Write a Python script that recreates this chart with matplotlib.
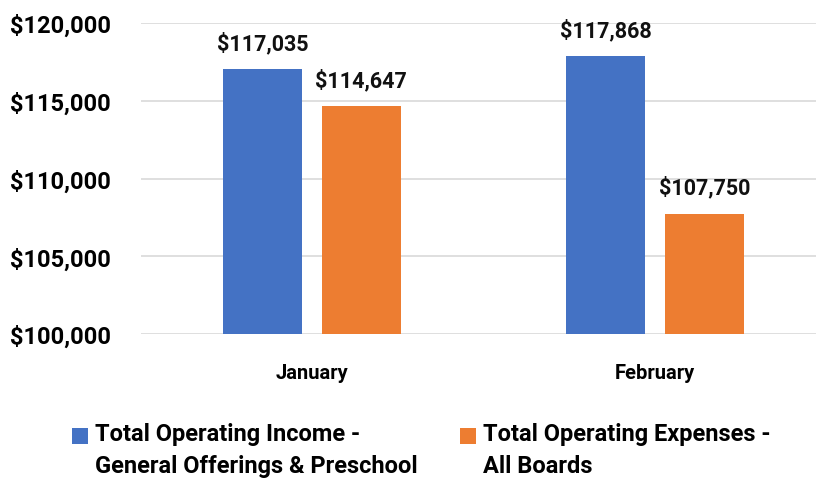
import matplotlib.pyplot as plt
import numpy as np
from matplotlib.ticker import FuncFormatter
from matplotlib.patches import Rectangle
from matplotlib.legend_handler import HandlerPatch

months = ["January", "February"]
income = [117035, 117868]
expenses = [114647, 107750]
series_names = ["Total Operating Income -\nGeneral Offerings & Preschool",
                "Total Operating Expenses -\nAll Boards"]

plt.rcParams["font.family"] = ["Roboto", "DejaVu Sans"]
plt.rcParams["font.weight"] = "bold"

fig = plt.figure(figsize=(8.16, 4.81), dpi=100)
ax = fig.add_axes([0.173, 0.3035, 0.827, 0.6465])

x = np.arange(len(months))
w = 0.23
off = 0.144
b1 = ax.bar(x - off, income, w, color="#4472C4", label=series_names[0], zorder=2)
b2 = ax.bar(x + off, expenses, w, color="#ED7D31", label=series_names[1], zorder=2)

for bars in (b1, b2):
    for rect in bars:
        h = rect.get_height()
        ax.annotate("${:,.0f}".format(h), (rect.get_x() + rect.get_width() / 2, h),
                    xytext=(0, 11), textcoords="offset points", ha="center", va="bottom",
                    fontsize=15.5, fontweight="bold", color="#111111")

ax.set_ylim(100000, 120000)
ax.set_yticks(range(100000, 120001, 5000))
ax.yaxis.set_major_formatter(FuncFormatter(lambda v, p: "${:,.0f}".format(v)))
ax.set_xlim(-0.497, 1.469)
ax.set_xticks(x)
ax.set_xticklabels(months)

ax.grid(axis="y", color="#D9D9D9", linewidth=1.2, zorder=0)
for s in ax.spines.values():
    s.set_visible(False)
ax.tick_params(axis="both", length=0)
ax.tick_params(axis="y", labelsize=17, pad=22)
ax.tick_params(axis="x", labelsize=14.5, pad=21)
for t in ax.get_yticklabels() + ax.get_xticklabels():
    t.set_fontweight("bold")


# legend squares sit next to the first line of the two-line labels
def top_square(legend, orig_handle, xdescent, ydescent, width, height, fontsize):
    return Rectangle((-xdescent, -ydescent + 10.5), width, height)


leg = fig.legend(handles=[b1.patches[0], b2.patches[0]], labels=series_names, loc="upper left",
                 bbox_to_anchor=(0.088, 0.12), ncol=2, frameon=False,
                 handlelength=0.68, handleheight=0.68, borderpad=0, borderaxespad=0,
                 handletextpad=0.3, columnspacing=1.8, prop={"weight": "bold", "size": 17},
                 handler_map={Rectangle: HandlerPatch(patch_func=top_square)})
for t in leg.get_texts():
    t.set_linespacing(1.47)

fig.savefig("out.png", dpi=100)
